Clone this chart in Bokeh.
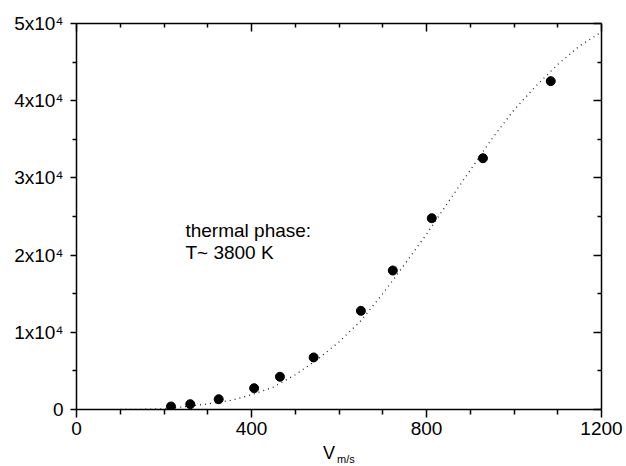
from bokeh.plotting import figure
from bokeh.models import LinearAxis, FixedTicker, Label, CustomJSTickFormatter, Div
from bokeh.layouts import column
from bokeh.embed import file_html
from bokeh.resources import INLINE

# measured points
v_data = [216, 260, 325, 406, 465, 542, 650, 723, 812, 929, 1084]
n_data = [390, 690, 1330, 2760, 4240, 6740, 12780, 18000, 24780, 32550, 42530]

# thermal fit curve (dotted)
v_fit = [100, 150, 200, 250, 300, 350, 400, 450, 500, 550, 600, 650, 700,
         750, 800, 850, 900, 950, 1000, 1050, 1100, 1150, 1200]
n_fit = [0, 20, 100, 380, 720, 1150, 1900, 2900, 4500, 6450, 8750, 11500, 15000,
         18800, 22700, 26900, 31000, 35100, 38800, 41900, 44700, 47100, 48900]

x_ticks = [0, 400, 800, 1200]
x_minor = [100, 200, 300, 500, 600, 700, 900, 1000, 1100]
y_ticks = [0, 10000, 20000, 30000, 40000, 50000]
y_minor = [5000, 15000, 25000, 35000, 45000]
y_tick_labels = ["0", "1x10\u2074", "2x10\u2074", "3x10\u2074", "4x10\u2074", "5x10\u2074"]

FONT = "Liberation Sans"

p = figure(width=626, height=444, x_range=(0, 1200), y_range=(0, 50000),
           output_backend="svg", toolbar_location=None,
           x_axis_location=None, y_axis_location=None,
           min_border_left=76, min_border_right=25, min_border_top=23,
           min_border_bottom=35)
p.grid.visible = False
p.outline_line_color = None
p.background_fill_color = "white"
p.border_fill_color = "white"


def style(ax, labels=True, out_major=0, out_minor=0, in_major=0, in_minor=0):
    ax.axis_line_width = 1.5
    ax.axis_line_color = "black"
    ax.major_tick_line_width = 1.5
    ax.minor_tick_line_width = 1.5
    ax.major_tick_out = out_major
    ax.minor_tick_out = out_minor
    ax.major_tick_in = in_major
    ax.minor_tick_in = in_minor
    ax.major_label_text_font = FONT
    ax.major_label_text_color = "black"
    ax.major_label_text_font_size = "19px"
    if not labels:
        ax.formatter = CustomJSTickFormatter(code="return ''")
        ax.major_label_standoff = 0
        ax.axis_label_standoff = 0


xb = LinearAxis(ticker=FixedTicker(ticks=x_ticks, minor_ticks=x_minor))
style(xb, True, out_major=8, out_minor=5)
xb.major_label_standoff = 4
p.add_layout(xb, "below")

yl = LinearAxis(ticker=FixedTicker(ticks=y_ticks, minor_ticks=y_minor))
style(yl, True, out_major=6, out_minor=4)
yl.major_label_standoff = 7
yl.major_label_overrides = {t: s for t, s in zip(y_ticks, y_tick_labels)}
p.add_layout(yl, "left")

xt = LinearAxis(ticker=FixedTicker(ticks=x_ticks, minor_ticks=x_minor))
style(xt, False, in_major=8, in_minor=4)
p.add_layout(xt, "above")

yr = LinearAxis(ticker=FixedTicker(ticks=y_ticks, minor_ticks=y_minor))
style(yr, False, in_major=8, in_minor=4)
p.add_layout(yr, "right")

p.line(v_fit, n_fit, line_color="#222222", line_width=1.3, line_dash="1 4")
p.scatter(v_data, n_data, size=9, color="black")

p.add_layout(Label(x=249, y=23190, text="thermal phase:", text_font=FONT,
                   text_font_size="19px", text_color="black",
                   text_baseline="alphabetic"))
p.add_layout(Label(x=249, y=20340, text="T~ 3800 K", text_font=FONT,
                   text_font_size="19px", text_color="black",
                   text_baseline="alphabetic"))

# x-axis title: V with subscript m/s
title = Div(
    text=('<div style="font-family:\'Liberation Sans\';font-size:18px;'
          'line-height:18px;color:black;padding-left:323px;white-space:nowrap;">'
          'V<span style="font-size:11px;position:relative;top:4px;'
          'margin-left:2px;">m/s</span></div>'),
    width=626, height=22, margin=(0, 0, 0, 0))

layout = column(p, title, spacing=0)

open("out.html", "w").write(file_html(layout, INLINE))
